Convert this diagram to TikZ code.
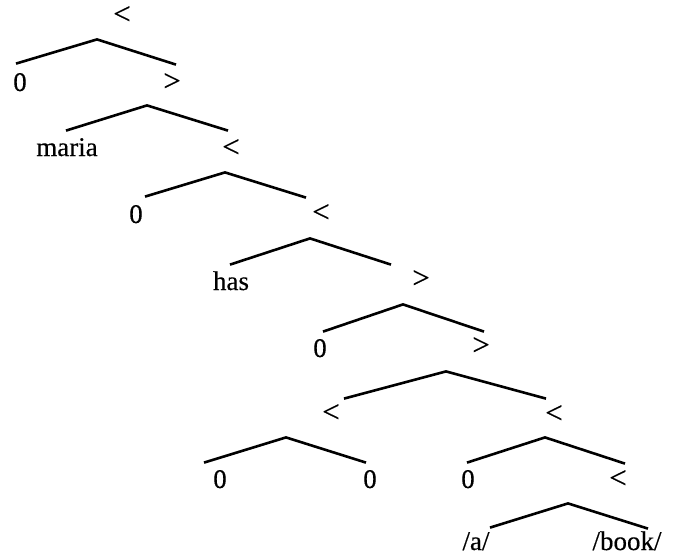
\documentclass[tikz,border=0pt]{standalone}
\usepackage{fontspec}
\setmainfont{Liberation Serif}[FakeBold=0.4]
\tikzset{
  lbl/.style={inner sep=0pt, anchor=base, text height=12.5pt, text depth=7.5pt},
  sym/.style={lbl, font=\fontsize{15.5}{18}\selectfont},
  branch/.style={line width=1.3pt, line join=miter}
}

\begin{document}
\begin{tikzpicture}[x=0.5pt, y=-0.5pt, font=\fontsize{13.5}{16}\selectfont]
  \useasboundingbox (0,0) rectangle (675,559);
  %labels
    \node[sym] (top) at (122,24) {<};
    \node[lbl] (z1) at (20,91) {0};
    \node[sym] (g1) at (172,91) {>};
    \node[lbl] (maria) at (67,156) {maria};
    \node[sym] (l2) at (231,157) {<};
    \node[lbl] (z2) at (136,223) {0};
    \node[sym] (l3) at (321,222) {<};
    \node[lbl] (has) at (231,290) {has};
    \node[sym] (g2) at (421,288) {>};
    \node[lbl] (z3) at (320,357) {0};
    \node[sym] (g3) at (481,355) {>};
    \node[sym] (l4) at (331,422) {<};
    \node[sym] (l5) at (554,423) {<};
    \node[lbl] (z4) at (220,488) {0};
    \node[lbl] (z5) at (370,488) {0};
    \node[lbl] (z6) at (468,488) {0};
    \node[sym] (l6) at (618,488) {<};
    \node[lbl] (a) at (476,550) {/a/};
    \node[lbl] (book) at (627,550) {/book/};
  %branches
    \draw[branch] ([shift={(-4,-2)}]z1.north) -- ([shift={(-25,0)}]top.south) -- ([shift={(4,-1)}]g1.north);
    \draw[branch] ([shift={(-1,0)}]maria.north) -- ([shift={(-25,-1)}]g1.south) -- ([shift={(-3,-1)}]l2.north);
    \draw[branch] ([shift={(9,-1)}]z2.north) -- ([shift={(-6,0)}]l2.south) -- ([shift={(-15,1)}]l3.north);
    \draw[branch] ([shift={(-1,0)}]has.north) -- ([shift={(-11,1)}]l3.south) -- ([shift={(-30,2)}]g2.north);
    \draw[branch] ([shift={(3,0)}]z3.north) -- ([shift={(-18,1)}]g2.south) -- ([shift={(3,2)}]g3.north);
    \draw[branch] ([shift={(13,2)}]l4.north) -- ([shift={(-35,1)}]g3.south) -- ([shift={(-8,1)}]l5.north);
    \draw[branch] ([shift={(-16,0)}]z4.north) -- ([shift={(-45,0)}]l4.south) -- ([shift={(-4,0)}]z5.north);
    \draw[branch] ([shift={(-1,0)}]z6.north) -- ([shift={(-9,-1)}]l5.south) -- ([shift={(7,1)}]l6.north);
    \draw[branch] ([shift={(14,3)}]a.north) -- ([shift={(-50,0)}]l6.south) -- ([shift={(21,4)}]book.north);
\end{tikzpicture}
\end{document}
